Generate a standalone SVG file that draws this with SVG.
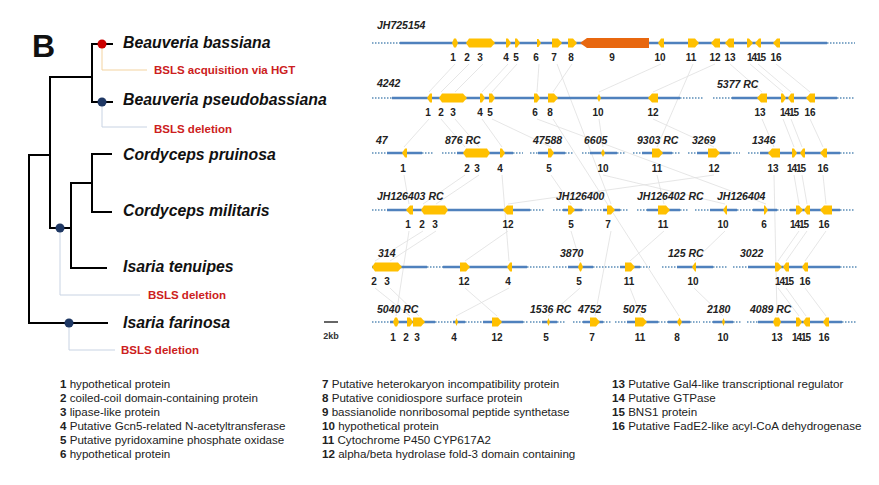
<svg xmlns="http://www.w3.org/2000/svg" width="879" height="485" viewBox="0 0 879 485">
<style>
.g{fill:#FFC000}
.g9{fill:#E8670F}
.ln{stroke:#4F81BD;stroke-width:2.5;fill:none}
.dt{stroke:#5B8DB8;stroke-width:1.5;stroke-dasharray:1.5 1.5;fill:none}
.gl{font-family:"Liberation Sans",Arial,sans-serif;font-weight:bold;font-size:10px;fill:#222;text-anchor:middle}
.gp{letter-spacing:-1px}
.sl{font-family:"Liberation Sans",Arial,sans-serif;font-weight:bold;font-style:italic;font-size:10.5px;fill:#222}
.sp{font-family:"Liberation Sans",Arial,sans-serif;font-weight:bold;font-style:italic;font-size:15.8px;fill:#111}
.red{font-family:"Liberation Sans",Arial,sans-serif;font-weight:bold;font-size:11.5px;fill:#CC2020}
.lg{font-family:"Liberation Sans",Arial,sans-serif;font-size:11.6px;fill:#222}
.lg tspan{font-weight:bold}
.tr{stroke:#000;stroke-width:2;fill:none}
.cn{stroke:#e0e0e0;stroke-width:0.8;fill:none}
.ldr{stroke:#C8D3E3;stroke-width:1;fill:none}
.ldrr{stroke:#F3D3A0;stroke-width:1;fill:none}
</style>
<rect width="879" height="485" fill="#fff"/>

<g id="tree">
<text x="32" y="57" font-family="Liberation Sans,Arial,sans-serif" font-weight="bold" font-size="32" fill="#111">B</text>
<path class="tr" d="M113 44 H92 V102 H113"/>
<path class="tr" d="M92 77 H50 V228 H71"/>
<path class="tr" d="M112 154 H92 V212 H112"/>
<path class="tr" d="M92 183 H71 V268 H107"/>
<path class="tr" d="M50 155 H29 V323 H108"/>
</g>

<g id="leaders">
<path class="ldrr" d="M102 44 V70 H147"/>
<path class="ldr" d="M102 102 V127 H147"/>
<path class="ldr" d="M60 228 V295 H140"/>
<path class="ldr" d="M69 323 V350 H115"/>
</g>

<g id="events">
<circle cx="102" cy="44" r="4.5" fill="#CC0000"/>
<circle cx="102" cy="102" r="4.5" fill="#1F3864"/>
<circle cx="60" cy="228" r="4.5" fill="#1F3864"/>
<circle cx="69" cy="323" r="4.5" fill="#1F3864"/>
<text class="red" x="154" y="74">BSLS acquisition via HGT</text>
<text class="red" x="154" y="133">BSLS deletion</text>
<text class="red" x="148" y="299">BSLS deletion</text>
<text class="red" x="121" y="354">BSLS deletion</text>
</g>

<g id="species">
<text class="sp" x="123" y="48">Beauveria bassiana</text>
<text class="sp" x="123" y="105">Beauveria pseudobassiana</text>
<text class="sp" x="123" y="160">Cordyceps pruinosa</text>
<text class="sp" x="123" y="216">Cordyceps militaris</text>
<text class="sp" x="123" y="272">Isaria tenuipes</text>
<text class="sp" x="123" y="328">Isaria farinosa</text>
</g>

<g id="connectors">
<path class="cn" d="M455 64 L429 92 M429 119 L404 147 M404 175 L409 204 M409 231 L396 316"/>
<path class="cn" d="M469 64 L441 92 M441 119 L465 147 M465 175 L423 204 M423 231 L375 261 M375 288 L410 316"/>
<path class="cn" d="M483 64 L455 92 M455 119 L479 147 M479 175 L436 204 M436 231 L390 261 M390 288 L419 316"/>
<path class="cn" d="M508 64 L482 92 M482 119 L502 147 M502 175 L509 261 M509 288 L456 316"/>
<path class="cn" d="M517 64 L492 92 M492 119 L551 147 M551 175 L571 204 M571 231 L580 261 M580 288 L548 316"/>
<path class="cn" d="M539 64 L537 92 M537 119 L766 204"/>
<path class="cn" d="M557 64 L611 204 M611 231 L595 316"/>
<path class="cn" d="M572 64 L553 92 M553 119 L679 316"/>
<path class="cn" d="M661 64 L599 92 M599 119 L603 147 M603 175 L725 204 M725 231 L694 261 M694 288 L723 316"/>
<path class="cn" d="M693 64 L657 147 M657 175 L664 204 M664 231 L630 261 M630 288 L641 316"/>
<path class="cn" d="M715 64 L653 92 M653 119 L714 147 M714 175 L508 204 M508 231 L465 261 M465 288 L497 316"/>
<path class="cn" d="M730 64 L762 92 M762 119 L774 147 M774 175 L777 316"/>
<path class="cn" d="M750 64 L783 92 M783 119 L794 147 M794 175 L799 204 M799 231 L778 261 M778 288 L799 316"/>
<path class="cn" d="M758 64 L791 92 M791 119 L802 147 M802 175 L807 204 M807 231 L786 261 M786 288 L806 316"/>
<path class="cn" d="M776 64 L810 92 M810 119 L823 147 M823 175 L826 204 M826 231 L805 261 M805 288 L826 316"/>
</g>

<g id="row1">
<text class="sl" x="377" y="29">JH725154</text>
<path class="dt" d="M372 43 H400 M827 43 H855"/>
<path class="ln" d="M400 43 H827"/>
<path class="g" d="M452 43 L454 38.5 H456 L458 43 L456 47.5 H454 Z"/>
<path class="g" d="M472 38.5 H469 L466 43 L469 47.5 H472 Z"/>
<path class="g" d="M472 38.5 H491 L495 43 L491 47.5 H472 Z"/>
<path class="g" d="M506 38.5 H508 L511 43 L508 47.5 H506 Z"/>
<path class="g" d="M515 38.5 H517 L520 43 L517 47.5 H515 Z"/>
<path class="g" d="M537 39 H538.5 L541 43 L538.5 47 H537 Z"/>
<path class="g" d="M552 38.5 H558 L562 43 L558 47.5 H552 Z"/>
<path class="g" d="M568 38.5 H573 L577 43 L573 47.5 H568 Z"/>
<path class="g9" d="M649 38 H587 L580 43 L587 48 H649 Z"/>
<path class="g" d="M664 38.5 H661 L658 43 L661 47.5 H664 Z"/>
<path class="g" d="M688 38.5 H695 L699 43 L695 47.5 H688 Z"/>
<path class="g" d="M720 38.5 H715 L711 43 L715 47.5 H720 Z"/>
<path class="g" d="M734 38.5 H729 L725 43 L729 47.5 H734 Z"/>
<path class="g" d="M747 38.5 H749 L753 43 L749 47.5 H747 Z"/>
<path class="g" d="M761 38.5 H759 L755 43 L759 47.5 H761 Z"/>
<path class="g" d="M780 38.5 H777 L773 43 L777 47.5 H780 Z"/>
<text class="gl" x="453" y="61">1</text><text class="gl" x="467" y="61">2</text><text class="gl" x="480" y="61">3</text><text class="gl" x="506" y="61">4</text><text class="gl" x="516" y="61">5</text><text class="gl" x="536" y="61">6</text><text class="gl" x="554" y="61">7</text><text class="gl" x="571" y="61">8</text><text class="gl" x="612" y="61">9</text><text class="gl" x="660" y="61">10</text><text class="gl" x="691" y="61">11</text><text class="gl" x="715" y="61">12</text><text class="gl" x="730" y="61">13</text><text class="gl gp" x="756" y="61">1415</text><text class="gl" x="776" y="61">16</text>
</g>

<g id="row2">
<text class="sl" x="377" y="87">4242</text>
<text class="sl" x="717" y="88">5377 RC</text>
<path class="dt" d="M372 98 H392 M680 98 H703 M713 98 H732 M837 98 H855"/>
<path class="ln" d="M392 98 H680 M732 98 H837"/>
<path class="g" d="M432 93.5 H430 L427 98 L430 102.5 H432 Z"/>
<path class="g" d="M443 93.5 H442 L439 98 L442 102.5 H443 Z"/>
<path class="g" d="M443 93.5 H463 L467 98 L463 102.5 H443 Z"/>
<path class="g" d="M480 93.5 H482 L485 98 L482 102.5 H480 Z"/>
<path class="g" d="M489 93.5 H492 L495 98 L492 102.5 H489 Z"/>
<path class="g" d="M534 93.5 H537 L540 98 L537 102.5 H534 Z"/>
<path class="g" d="M548 93.5 H554 L558 98 L554 102.5 H548 Z"/>
<path class="g" d="M597 98 L599 94 L601 98 L599 102 Z"/>
<path class="g" d="M658 93.5 H652 L648 98 L652 102.5 H658 Z"/>
<path class="g" d="M767 93.5 H761 L757 98 L761 102.5 H767 Z"/>
<path class="g" d="M781 93.5 H783 L786 98 L783 102.5 H781 Z"/>
<path class="g" d="M794 93.5 H791 L788 98 L791 102.5 H794 Z"/>
<path class="g" d="M815 93.5 H810 L806 98 L810 102.5 H815 Z"/>
<text class="gl" x="428" y="116">1</text><text class="gl" x="441" y="116">2</text><text class="gl" x="453" y="116">3</text><text class="gl" x="480" y="116">4</text><text class="gl" x="490" y="116">5</text><text class="gl" x="535" y="116">6</text><text class="gl" x="550" y="116">8</text><text class="gl" x="598" y="116">10</text><text class="gl" x="653" y="116">12</text><text class="gl" x="760" y="116">13</text><text class="gl gp" x="789" y="116">1415</text><text class="gl" x="810" y="116">16</text>
</g>

<g id="row3">
<text class="sl" x="376" y="144">47</text><text class="sl" x="445" y="144">876 RC</text><text class="sl" x="533" y="144">47588</text><text class="sl" x="584" y="144">6605</text><text class="sl" x="637" y="144">9303 RC</text><text class="sl" x="692" y="144">3269</text><text class="sl" x="752" y="144">1346</text>
<path class="dt" d="M372 153 H387 M422 153 H433 M442 153 H457 M513 153 H523 M530 153 H538 M565 153 H573 M582 153 H590 M617 153 H625 M633 153 H642 M672 153 H680 M688 153 H697 M730 153 H740 M748 153 H760 M840 153 H855"/>
<path class="ln" d="M387 153 H422 M457 153 H513 M538 153 H565 M590 153 H617 M642 153 H672 M697 153 H730 M760 153 H840"/>
<path class="g" d="M407 148.5 H405 L402 153 L405 157.5 H407 Z"/>
<path class="g" d="M468 148.5 H466 L463 153 L466 157.5 H468 Z"/>
<path class="g" d="M468 148.5 H487 L490 153 L487 157.5 H468 Z"/>
<path class="g" d="M500 148.5 H502 L505 153 L502 157.5 H500 Z"/>
<path class="g" d="M548 148.5 H551 L554 153 L551 157.5 H548 Z"/>
<path class="g" d="M601 153 L603 149 L605 153 L603 157 Z"/>
<path class="g" d="M652 148.5 H659 L663 153 L659 157.5 H652 Z"/>
<path class="g" d="M708 148.5 H716 L720 153 L716 157.5 H708 Z"/>
<path class="g" d="M780 148.5 H772 L768 153 L772 157.5 H780 Z"/>
<path class="g" d="M792 148.5 H794 L797 153 L794 157.5 H792 Z"/>
<path class="g" d="M805 148.5 H803 L800 153 L803 157.5 H805 Z"/>
<path class="g" d="M827 148.5 H824 L820 153 L824 157.5 H827 Z"/>
<text class="gl" x="403" y="172">1</text><text class="gl" x="467" y="172">2</text><text class="gl" x="477" y="172">3</text><text class="gl" x="500" y="172">4</text><text class="gl" x="549" y="172">5</text><text class="gl" x="603" y="172">10</text><text class="gl" x="657" y="172">11</text><text class="gl" x="714" y="172">12</text><text class="gl" x="773" y="172">13</text><text class="gl gp" x="796" y="172">1415</text><text class="gl" x="823" y="172">16</text>
</g>

<g id="row4">
<text class="sl" x="377" y="200">JH126403 RC</text><text class="sl" x="556" y="200">JH126400</text><text class="sl" x="637" y="200">JH126402 RC</text><text class="sl" x="717" y="200">JH126404</text>
<path class="dt" d="M372 210 H387 M530 210 H545 M553 210 H563 M582 210 H603 M620 210 H628 M637 210 H647 M680 210 H688 M695 210 H710 M737 210 H753 M777 210 H790 M840 210 H855"/>
<path class="ln" d="M387 210 H530 M563 210 H582 M603 210 H620 M647 210 H680 M710 210 H737 M753 210 H777 M790 210 H840"/>
<path class="g" d="M413 205.5 H410 L406 210 L410 214.5 H413 Z"/>
<path class="g" d="M425 205.5 H424 L421 210 L424 214.5 H425 Z"/>
<path class="g" d="M425 205.5 H445 L448 210 L445 214.5 H425 Z"/>
<path class="g" d="M513 205.5 H507 L503 210 L507 214.5 H513 Z"/>
<path class="g" d="M568 205.5 H571 L575 210 L571 214.5 H568 Z"/>
<path class="g" d="M607 205.5 H611 L615 210 L611 214.5 H607 Z"/>
<path class="g" d="M658 205.5 H666 L670 210 L666 214.5 H658 Z"/>
<path class="g" d="M727 205.5 H726 L723 210 L726 214.5 H727 Z"/>
<path class="g" d="M764 205.5 H765 L768 210 L765 214.5 H764 Z"/>
<path class="g" d="M796 205.5 H799 L803 210 L799 214.5 H796 Z"/>
<path class="g" d="M810 205.5 H807 L804 210 L807 214.5 H810 Z"/>
<path class="g" d="M832 205.5 H824 L820 210 L824 214.5 H832 Z"/>
<text class="gl" x="408" y="228">1</text><text class="gl" x="422" y="228">2</text><text class="gl" x="435" y="228">3</text><text class="gl" x="508" y="228">12</text><text class="gl" x="571" y="228">5</text><text class="gl" x="608" y="228">7</text><text class="gl" x="663" y="228">11</text><text class="gl" x="723" y="228">10</text><text class="gl" x="764" y="228">6</text><text class="gl gp" x="799" y="228">1415</text><text class="gl" x="824" y="228">16</text>
</g>

<g id="row5">
<text class="sl" x="378" y="257">314</text><text class="sl" x="560" y="257">3870</text><text class="sl" x="668" y="257">125 RC</text><text class="sl" x="740" y="257">3022</text>
<path class="dt" d="M427 267 H443 M527 267 H550 M553 267 H568 M593 267 H620 M640 267 H650 M662 267 H677 M713 267 H727 M733 267 H748 M840 267 H857"/>
<path class="ln" d="M372 267 H427 M443 267 H527 M568 267 H593 M620 267 H640 M677 267 H713 M748 267 H840"/>
<path class="g" d="M378 262.5 H375 L372 267 L375 271.5 H378 Z"/>
<path class="g" d="M378 262.5 H398 L402 267 L398 271.5 H378 Z"/>
<path class="g" d="M460 262.5 H466 L470 267 L466 271.5 H460 Z"/>
<path class="g" d="M512 262.5 H510 L507 267 L510 271.5 H512 Z"/>
<path class="g" d="M578 267 L580 262.5 H581 L583 267 L581 271.5 H580 Z"/>
<path class="g" d="M625 262.5 H631 L635 267 L631 271.5 H625 Z"/>
<path class="g" d="M696 262.5 H695 L692 267 L695 271.5 H696 Z"/>
<path class="g" d="M775 262.5 H778 L782 267 L778 271.5 H775 Z"/>
<path class="g" d="M789 262.5 H786 L783 267 L786 271.5 H789 Z"/>
<path class="g" d="M808 262.5 H805 L802 267 L805 271.5 H808 Z"/>
<text class="gl" x="374" y="285">2</text><text class="gl" x="387" y="285">3</text><text class="gl" x="464" y="285">12</text><text class="gl" x="508" y="285">4</text><text class="gl" x="579" y="285">5</text><text class="gl" x="629" y="285">11</text><text class="gl" x="693" y="285">10</text><text class="gl gp" x="784" y="285">1415</text><text class="gl" x="805" y="285">16</text>
</g>

<g id="row6">
<text class="sl" x="377" y="313">5040 RC</text><text class="sl" x="530" y="313">1536 RC</text><text class="sl" x="578" y="313">4752</text><text class="sl" x="623" y="313">5075</text><text class="sl" x="707" y="313">2180</text><text class="sl" x="750" y="313">4089 RC</text>
<path class="dt" d="M372 322 H390 M435 322 H453 M465 322 H483 M523 322 H528 M530 322 H542 M557 322 H565 M573 322 H583 M603 322 H612 M615 322 H627 M658 322 H668 M690 322 H700 M703 322 H713 M733 322 H742 M747 322 H758 M842 322 H857"/>
<path class="ln" d="M390 322 H435 M453 322 H465 M483 322 H523 M542 322 H557 M583 322 H603 M627 322 H658 M668 322 H690 M713 322 H733 M758 322 H842"/>
<path class="g" d="M393 322 L395 317.5 H397 L399 322 L397 326.5 H395 Z"/>
<path class="g" d="M407 317.5 H410 L413 322 L410 326.5 H407 Z"/>
<path class="g" d="M413 317.5 H421 L425 322 L421 326.5 H413 Z"/>
<path class="g" d="M455 322 L456.5 318 L458 322 L456.5 326 Z"/>
<path class="g" d="M492 317.5 H498 L502 322 L498 326.5 H492 Z"/>
<path class="g" d="M547 322 L548.5 318 L550 322 L548.5 326 Z"/>
<path class="g" d="M590 317.5 H596 L600 322 L596 326.5 H590 Z"/>
<path class="g" d="M635 317.5 H643 L647 322 L643 326.5 H635 Z"/>
<path class="g" d="M677 322 L679.5 317.5 L682 322 L679.5 326.5 Z"/>
<path class="g" d="M722 322 L723.5 318 L725 322 L723.5 326 Z"/>
<path class="g" d="M773 322 L775 317.5 H779 L781 322 L779 326.5 H775 Z"/>
<path class="g" d="M796 317.5 H799 L802 322 L799 326.5 H796 Z"/>
<path class="g" d="M810 317.5 H806 L803 322 L806 326.5 H810 Z"/>
<path class="g" d="M829 317.5 H826 L823 322 L826 326.5 H829 Z"/>
<text class="gl" x="393" y="341">1</text><text class="gl" x="406" y="341">2</text><text class="gl" x="417" y="341">3</text><text class="gl" x="454" y="341">4</text><text class="gl" x="497" y="341">12</text><text class="gl" x="546" y="341">5</text><text class="gl" x="592" y="341">7</text><text class="gl" x="640" y="341">11</text><text class="gl" x="677" y="341">8</text><text class="gl" x="723" y="341">10</text><text class="gl" x="777" y="341">13</text><text class="gl gp" x="801" y="341">1415</text><text class="gl" x="824" y="341">16</text>
</g>

<g id="scalebar">
<path d="M324 322 H338" stroke="#333" stroke-width="1.5"/>
<text x="331" y="339" font-family="Liberation Sans,Arial,sans-serif" font-weight="bold" font-size="9" fill="#333" text-anchor="middle">2kb</text>
</g>

<g id="legend">
<text class="lg" x="60" y="388"><tspan>1</tspan> hypothetical protein</text>
<text class="lg" x="60" y="402"><tspan>2</tspan> coiled-coil domain-containing protein</text>
<text class="lg" x="60" y="416"><tspan>3</tspan> lipase-like protein</text>
<text class="lg" x="60" y="430"><tspan>4</tspan> Putative Gcn5-related N-acetyltransferase</text>
<text class="lg" x="60" y="444"><tspan>5</tspan> Putative pyridoxamine phosphate oxidase</text>
<text class="lg" x="60" y="458"><tspan>6</tspan> hypothetical protein</text>
<text class="lg" x="322" y="388"><tspan>7</tspan> Putative heterokaryon incompatibility protein</text>
<text class="lg" x="322" y="402"><tspan>8</tspan> Putative conidiospore surface protein</text>
<text class="lg" x="322" y="416"><tspan>9</tspan> bassianolide nonribosomal peptide synthetase</text>
<text class="lg" x="322" y="430"><tspan>10</tspan> hypothetical protein</text>
<text class="lg" x="322" y="444"><tspan>11</tspan> Cytochrome P450 CYP617A2</text>
<text class="lg" x="322" y="458"><tspan>12</tspan> alpha/beta hydrolase fold-3 domain containing</text>
<text class="lg" x="612" y="388"><tspan>13</tspan> Putative Gal4-like transcriptional regulator</text>
<text class="lg" x="612" y="402"><tspan>14</tspan> Putative GTPase</text>
<text class="lg" x="612" y="416"><tspan>15</tspan> BNS1 protein</text>
<text class="lg" x="612" y="430"><tspan>16</tspan> Putative FadE2-like acyl-CoA dehydrogenase</text>
</g>
</svg>
